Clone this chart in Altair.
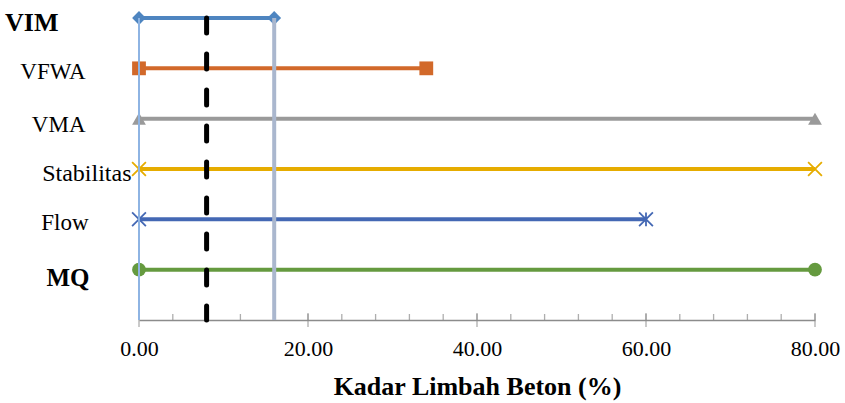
import altair as alt
import pandas as pd

# ---- data ----
series = ["VIM", "VFWA", "VMA", "Stabilitas", "Flow", "MQ"]
start_vals = [0, 0, 0, 0, 0, 0]
end_vals = [16, 34, 80, 80, 60, 80]
colors = ["#4E85C0", "#D2692A", "#9A9A9A", "#E6AC00", "#4468B4", "#659A3F"]
X_PATH = "M-1,-1L1,1M1,-1L-1,1"
AST_PATH = "M-1,-1L1,1M1,-1L-1,1M0,-1L0,1"
shapes = ["diamond", "square", "triangle-up", X_PATH, AST_PATH, "circle"]
filled_flags = [True, True, True, False, False, True]

ref_x = [0, 16]
ref_colors = ["#8EB4E3", "#AAB7CE"]
ref_widths = [2, 4]
dash_x = [8]

major_ticks = [0, 20, 40, 60, 80]
minor_ticks = list(range(0, 81, 4))
x_title = "Kadar Limbah Beton (%)"

FONT = "Liberation Serif"
BLANK = ""
y_domain = series + [BLANK]
AXIS_GRAY = "#8C8C8C"

# ---- tables ----
seg_df = pd.DataFrame({"series": series, "start": start_vals, "end": end_vals})
pts = []
for s, a, b, f in zip(series, start_vals, end_vals, filled_flags):
    pts.append({"series": s, "x": a, "filled": f})
    pts.append({"series": s, "x": b, "filled": f})
pts_df = pd.DataFrame(pts)
ref_df = pd.DataFrame({"x": ref_x, "color": ref_colors, "w": ref_widths,
                       "top": [series[0]] * len(ref_x), "bottom": [BLANK] * len(ref_x)})
dash_df = pd.DataFrame({"x": dash_x, "top": [series[0]], "bottom": [BLANK]})
major_df = pd.DataFrame({"x": major_ticks, "pos": [BLANK] * len(major_ticks)})
minor_df = pd.DataFrame({"x": minor_ticks, "pos": [BLANK] * len(minor_ticks)})

xscale = alt.Scale(domain=[0, 80], nice=False, zero=False)
yscale = alt.Scale(type="point", domain=y_domain, padding=0)
cscale = alt.Scale(domain=series, range=colors)
sscale = alt.Scale(domain=series, range=shapes)

def cond(mapping, default):
    return {"condition": [{"test": f"datum.value == '{k}'", "value": v} for k, v in mapping.items()],
            "value": default}

y_axis = alt.Axis(
    title=None, domain=False, ticks=False, grid=False,
    labelFont=FONT, labelColor="#000000",
    labelFontSize=cond({"VIM": 26, "MQ": 25, "Stabilitas": 24}, 23),
    labelFontWeight=cond({"VIM": "bold", "MQ": "bold"}, "normal"),
    labelPadding=cond({"VIM": 81, "VFWA": 54, "VMA": 54, "Stabilitas": 8, "Flow": 51, "MQ": 50}, 50),
    labelOffset=cond({"VIM": 4, "VFWA": 3, "VMA": 6, "Stabilitas": 4, "Flow": 3, "MQ": 8}, 0),
)
x_axis = alt.Axis(
    values=major_ticks, format=".2f", grid=False, ticks=False, labelFlush=False,
    domainColor=AXIS_GRAY, domainWidth=1.3,
    labelFont=FONT, labelFontSize=22, labelColor="#000000", labelPadding=18,
    title=x_title, titleFont=FONT, titleFontSize=26, titleFontWeight="bold",
    titleColor="#000000", titlePadding=14,
)

base_x = alt.X("start:Q", scale=xscale, axis=x_axis)

segs = alt.Chart(seg_df).mark_rule(strokeWidth=4).encode(
    x=base_x, x2="end:Q",
    y=alt.Y("series:N", scale=yscale, axis=y_axis, sort=y_domain),
    color=alt.Color("series:N", scale=cscale, legend=None),
)

pts_filled = alt.Chart(pts_df).transform_filter("datum.filled").mark_point(
    filled=True, size=190, opacity=1).encode(
    x=alt.X("x:Q", scale=xscale),
    y=alt.Y("series:N", scale=yscale),
    color=alt.Color("series:N", scale=cscale, legend=None),
    shape=alt.Shape("series:N", scale=sscale, legend=None),
)
pts_open = alt.Chart(pts_df).transform_filter("!datum.filled").mark_point(
    filled=False, size=190, strokeWidth=1.8, opacity=1).encode(
    x=alt.X("x:Q", scale=xscale),
    y=alt.Y("series:N", scale=yscale),
    color=alt.Color("series:N", scale=cscale, legend=None),
    shape=alt.Shape("series:N", scale=sscale, legend=None),
)

minor = alt.Chart(minor_df).mark_tick(orient="vertical", size=6, thickness=1.3,
                                      yOffset=-3, color=AXIS_GRAY).encode(
    x=alt.X("x:Q", scale=xscale), y=alt.Y("pos:N", scale=yscale))
major = alt.Chart(major_df).mark_tick(orient="vertical", size=14, thickness=1.3,
                                      color=AXIS_GRAY).encode(
    x=alt.X("x:Q", scale=xscale), y=alt.Y("pos:N", scale=yscale))

refs = alt.Chart(ref_df).mark_rule().encode(
    x=alt.X("x:Q", scale=xscale),
    y=alt.Y("top:N", scale=yscale), y2="bottom:N",
    color=alt.Color("color:N", scale=None),
    strokeWidth=alt.StrokeWidth("w:Q", scale=None),
)
dash = alt.Chart(dash_df).mark_rule(color="#000000", strokeWidth=5,
                                    strokeDash=[15, 21], strokeCap="round").encode(
    x=alt.X("x:Q", scale=xscale),
    y=alt.Y("top:N", scale=yscale), y2="bottom:N",
)

chart = alt.layer(minor, major, segs, pts_filled, pts_open, refs, dash).properties(
    width=676, height=302,
    autosize=alt.AutoSizeParams(type="none"),
    padding={"left": 139, "top": 18, "right": 30, "bottom": 83},
    background="#ffffff",
).configure_view(stroke=None)

chart.save("out.html", embed_options={"renderer": "svg", "actions": False})
